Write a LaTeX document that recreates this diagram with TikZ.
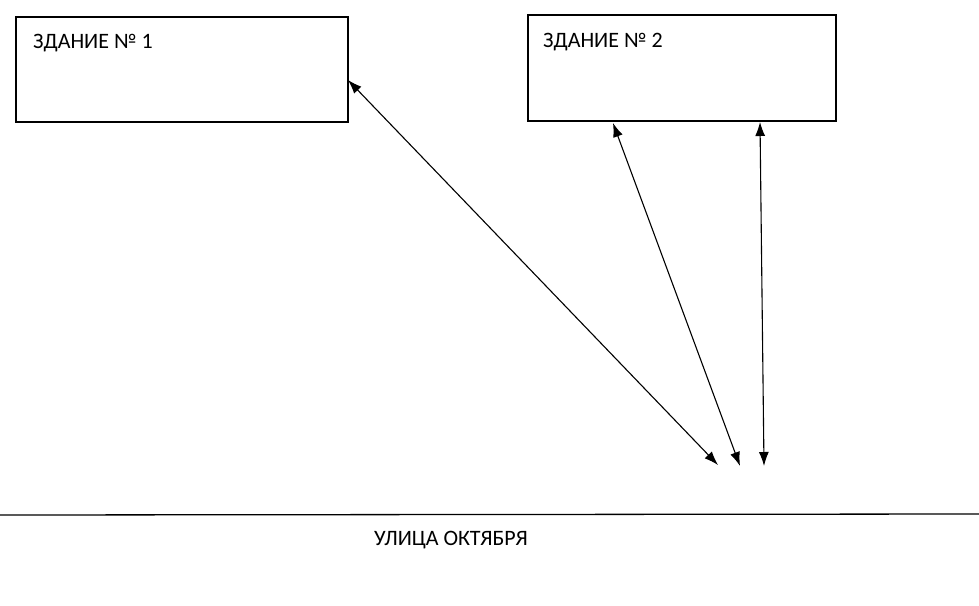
\documentclass[tikz,border=0pt]{standalone}
\usepackage{fontspec}
\setmainfont{Carlito}
\usetikzlibrary{arrows.meta}

\tikzset{
  bld/.style={draw,line width=1.3pt,rectangle,inner sep=0pt},
  lbl/.style={anchor=base west,font=\fontsize{22}{26}\selectfont,inner sep=0pt},
  link/.style={line width=1.1pt,{Latex[length=14pt,width=10pt]}-{Latex[length=14pt,width=10pt]}}
}

\begin{document}
\begin{tikzpicture}[x=1pt,y=-1pt]

    \useasboundingbox (0,0) rectangle (979,605);

    % buildings
    \node[bld,minimum width=332pt,minimum height=105pt] (bld1) at (182,69.5) {};
    \node[bld,minimum width=308pt,minimum height=106pt] (bld2) at (682,68) {};
    \node[lbl] (lbl1) at (33,48) {ЗДАНИЕ № 1};
    \node[lbl] (lbl2) at (543,47) {ЗДАНИЕ № 2};

    % define coordinates
    \coordinate (A1) at (348,80) ;
    \coordinate (A2) at (613,123) ;
    \coordinate (A3) at (760,122) ;

    \coordinate (P1) at (718,465) ;
    \coordinate (P2) at (740,466) ;
    \coordinate (P3) at (764,466) ;

    \coordinate (RL) at (0,515) ;
    \coordinate (RR) at (979,514) ;

    % street
    \draw[line width=1.3pt] (RL) -- (RR) ;
    \node[lbl,anchor=base] (street) at (451,545) {УЛИЦА ОКТЯБРЯ};

    % arrows
    \draw[link] (A1) -- (P1);
    \draw[link] (A2) -- (P2);
    \draw[link] (A3) -- (P3);

\end{tikzpicture}
\end{document}
